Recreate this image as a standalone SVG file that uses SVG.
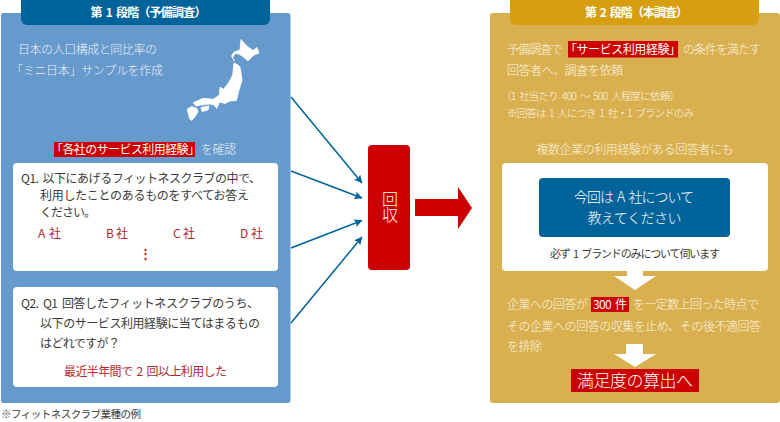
<svg xmlns="http://www.w3.org/2000/svg" width="780" height="422" viewBox="0 0 780 422">
<style>
text{font-family:"Noto Sans CJK JP","Noto Sans",sans-serif;font-size:12px;font-weight:400;word-spacing:2px}
.w{fill:#e9eff7;font-weight:300}.y{fill:#fdf5e0;font-weight:300}.k{fill:#3a3a3a}.r{fill:#b02a30}.b{font-weight:700;fill:#fff}
.c{text-anchor:middle}.conn{stroke:#00639a;stroke-width:1.5;fill:none;marker-end:url(#ah)}
</style>
<defs><marker id="ah" viewBox="0 0 10 10" refX="9.500" refY="5" markerWidth="8" markerHeight="8" markerUnits="userSpaceOnUse" orient="auto"><path d="M0 0L10 5L0 10L2 5Z" fill="#00639a"/></marker></defs>
<rect width="780" height="422" fill="#fff"/>
<g id="stage1">
<rect x="1" y="13" width="289.500" height="390" rx="3" fill="#6699cc"/>
<path d="M21 0H270V19a6 6 0 0 1-6 6H27a6 6 0 0 1-6-6Z" fill="#00639a"/>
<text x="90.500" y="17" class="b" textLength="116">第 1 段階（予備調査）</text>
<text x="18" y="54" class="w" textLength="139">日本の人口構成と同比率の</text>
<text x="11" y="75" class="w" textLength="152">「ミニ日本」サンプルを作成</text>
<g id="japan" fill="#fff" stroke="#fff" stroke-width="0.800" stroke-linejoin="round">
<path d="M241 39.500L244 43L248 47L253 50.500L257 47.500L259 53L254 55L248 61L243.500 57L239 54L235 53.500L232.500 58L234.500 61L231.500 56L234 52L240 50Z"/>
<path d="M234 63L238 65L240 67L241 73L242 80L238.500 92L236.500 100.500L230 101L225 103.500L219.500 102L216.700 108.500L214.300 105L210 104L200.700 105L196 106L193.300 102.700L203.300 98.300L213.300 99.300L219.300 95L220 87.300L223.300 89.300L228.300 83.300L232.700 75L233.500 67Z"/>
<path d="M201 107.500L209 106L208 110L202 111.500Z"/>
<path d="M187 109.300L191.700 106.500L196.700 108.300L198 111.700L195 116.700L191.700 120.500L189.300 118.300L188.300 113.300Z"/>
</g>
<rect x="54" y="142" width="141" height="15" fill="#c00"/>
<text x="51" y="154" fill="#fff" textLength="149">「各社のサービス利用経験」</text>
<text x="201" y="154" class="w" textLength="35">を確認</text>
<rect x="13" y="163" width="265" height="108" rx="4" fill="#fff"/>
<text x="21" y="183" class="k" textLength="240">Q1. 以下にあげるフィットネスクラブの中で、</text>
<text x="40" y="200" class="k" textLength="209">利用したことのあるものをすべてお答え</text>
<text x="40" y="217" class="k" textLength="56">ください。</text>
<text x="38" y="238" class="r" textLength="23">A 社</text>
<text x="106" y="238" class="r" textLength="22">B 社</text>
<text x="173" y="238" class="r" textLength="22">C 社</text>
<text x="240" y="238" class="r" textLength="23">D 社</text>
<text x="145.500" y="258" class="r c" style="font-size:13px;font-weight:700">⋮</text>
<rect x="13" y="287" width="265" height="100" rx="4" fill="#fff"/>
<text x="21" y="308" class="k" textLength="238">Q2. Q1 回答したフィットネスクラブのうち、</text>
<text x="40" y="328" class="k" textLength="220">以下のサービス利用経験に当てはまるもの</text>
<text x="40" y="348" class="k" textLength="80">はどれですが？</text>
<text x="64" y="376" class="r" textLength="163">最近半年間で 2 回以上利用した</text>
</g>
<text id="note" x="1" y="418" class="k" style="font-size:10.500px" textLength="140">※フィットネスクラブ業種の例</text>
<g id="connectors">
<line x1="291" y1="97" x2="362" y2="183" class="conn"/>
<line x1="291" y1="171" x2="362" y2="198" class="conn"/>
<line x1="291" y1="248" x2="362" y2="220.500" class="conn"/>
<line x1="291" y1="323" x2="362" y2="237" class="conn"/>
</g>
<g id="collect">
<rect x="368" y="145" width="42" height="125" rx="4" fill="#c00"/>
<text x="390" y="191" fill="#fff" style="font-size:16px;writing-mode:vertical-rl;font-weight:300;text-anchor:start">回収</text>
</g>
<path id="bigarrow" d="M415 199H458V187L472 208L458 229V216H415Z" fill="#c00"/>
<g id="stage2">
<rect x="490" y="13" width="290" height="390" rx="3" fill="#d9b04f"/>
<path d="M510 0H759V19a6 6 0 0 1-6 6H516a6 6 0 0 1-6-6Z" fill="#d69f10"/>
<text x="585" y="17" class="b" textLength="103">第 2 段階（本調査）</text>
<text x="507" y="54" class="y" textLength="56">予備調査で</text>
<rect x="568" y="41" width="110" height="16.500" fill="#c00"/>
<text x="565" y="54" fill="#fff" textLength="116">「サービス利用経験」</text>
<text x="683" y="54" class="y" textLength="78">の条件を満たす</text>
<text x="507" y="75" class="y" textLength="116">回答者へ、調査を依頼</text>
<text x="501" y="100" class="y" style="font-size:10.500px" textLength="179">（1 社当たり 400 ～ 500 人程度に依頼）</text>
<text x="507" y="117" class="y" style="font-size:10.500px" textLength="187">※回答は 1 人につき 1 社・1 ブランドのみ</text>
<text x="635" y="154" class="y c" textLength="197">複数企業の利用経験がある回答者にも</text>
<rect x="502" y="163" width="266" height="108" rx="4" fill="#fff"/>
<rect x="539" y="178" width="191" height="59" rx="4" fill="#00639a"/>
<text x="634" y="202" class="c" fill="#fff" style="font-size:14px;font-weight:300" textLength="120">今回は A 社について</text>
<text x="634.500" y="223" class="c" fill="#fff" style="font-size:14px;font-weight:300" textLength="94">教えてください</text>
<text x="635" y="258" class="c k" style="font-size:11px" textLength="170">必ず 1 ブランドのみについて伺います</text>
<path d="M627 271H643V276H656L635 290L614 276H627Z" fill="#fff"/>
<text x="507" y="309" class="y" textLength="81">企業への回答が</text>
<rect x="591" y="297" width="38" height="15" fill="#c00"/>
<text x="610" y="309" class="c" fill="#fff" textLength="34">300 件</text>
<text x="633" y="309" class="y" textLength="126">を一定数上回った時点で</text>
<text x="507" y="331" class="y" textLength="254">その企業への回答の収集を止め、その後不適回答</text>
<text x="507" y="351" class="y" textLength="35">を排除</text>
<path d="M626 344H643V354H656L635 367L614 354H626Z" fill="#fff"/>
<rect x="571" y="369" width="128" height="23" fill="#c00"/>
<text x="635" y="387" class="c" fill="#fff" style="font-size:17px;font-weight:300" textLength="116">満足度の算出へ</text>
</g>
</svg>
